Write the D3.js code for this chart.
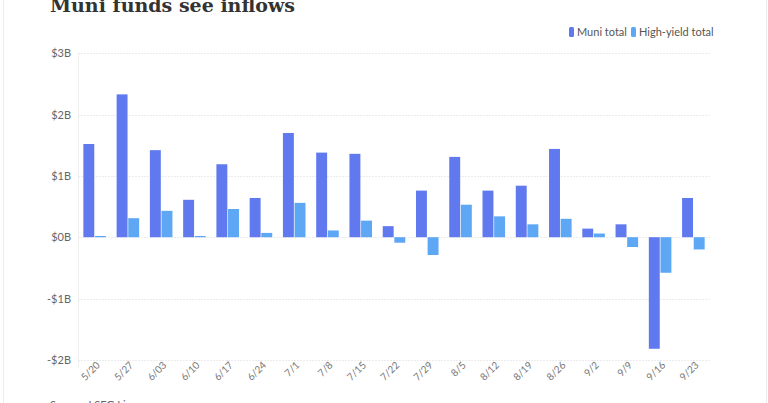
<!DOCTYPE html>
<html><head><meta charset="utf-8">
<script src="https://cdn.jsdelivr.net/npm/d3@7"></script>
<style>
html,body{margin:0;padding:0;background:#fff;}
svg{display:block;}
</style></head>
<body>
<svg id="c" width="768" height="403"></svg>
<script>
const categories = ["5/20","5/27","6/03","6/10","6/17","6/24","7/1","7/8","7/15","7/22","7/29","8/5","8/12","8/19","8/26","9/2","9/9","9/16","9/23"];
const muniTotal = [1.52,2.33,1.42,0.61,1.19,0.64,1.70,1.38,1.36,0.18,0.76,1.31,0.76,0.84,1.44,0.14,0.21,-1.82,0.64];
const highYieldTotal = [0.02,0.31,0.43,0.02,0.46,0.07,0.56,0.11,0.27,-0.09,-0.29,0.53,0.34,0.21,0.30,0.06,-0.16,-0.58,-0.20];
const seriesNames = ["Muni total","High-yield total"];
const yTicks = [-2,-1,0,1,2,3];
const yTickLabels = ["-$2B","-$1B","$0B","$1B","$2B","$3B"];

(function(){
const colors = {"Muni total":"#6179ef","High-yield total":"#5da7f4"};
const svg = d3.select("#c");
const pLeft = 78, pRight = 710, pTop = 53.3, pBottom = 359.8;

// faint card edges
svg.append("line").attr("x1",3.5).attr("x2",3.5).attr("y1",0).attr("y2",403).attr("stroke","#ececec");
svg.append("line").attr("x1",766.5).attr("x2",766.5).attr("y1",0).attr("y2",403).attr("stroke","#ececec");

const y = d3.scaleLinear().domain([-2,3]).range([pBottom, pTop]);
const x0 = d3.scaleBand().domain(categories).range([pLeft,pRight]).paddingInner(0.28).paddingOuter(0.14);
const x1 = d3.scaleBand().domain(seriesNames).range([0,x0.bandwidth()]).padding(0.06);

// gridlines
svg.append("g").selectAll("line").data(yTicks).join("line")
  .attr("x1",pLeft).attr("x2",pRight)
  .attr("y1",d=>Math.round(y(d))+0.5).attr("y2",d=>Math.round(y(d))+0.5)
  .attr("stroke","#ececec").attr("stroke-dasharray","2,1");
svg.append("line").attr("x1",pLeft+0.5).attr("x2",pLeft+0.5).attr("y1",pTop).attr("y2",pBottom+8).attr("stroke","#efefef");

// y axis labels
const yAxis = d3.axisLeft(y).tickValues(yTicks).tickFormat(d=>yTickLabels[yTicks.indexOf(d)]).tickSize(0).tickPadding(7);
const gy = svg.append("g").attr("transform",`translate(${pLeft},0)`).call(yAxis);
gy.select(".domain").remove();
gy.selectAll("text").attr("font-family","Lato, sans-serif").attr("font-size",11).attr("fill","#666");

// x axis
const xAxis = d3.axisBottom(x0).tickSize(4).tickPadding(0);
const gx = svg.append("g").attr("transform",`translate(0,${pBottom})`).call(xAxis);
gx.select(".domain").remove();
gx.selectAll(".tick line").attr("stroke","#e6e6e6");
gx.selectAll("text").attr("font-family","Lato, sans-serif").attr("font-size",10).attr("fill","#777")
  .attr("text-anchor","end").attr("y",0).attr("dy","0")
  .attr("transform","translate(6,6) rotate(-45)");

// bars
const rows = categories.map((c,i)=>({cat:c, vals:[{k:"Muni total",v:muniTotal[i]},{k:"High-yield total",v:highYieldTotal[i]}]}));
svg.append("g").selectAll("g").data(rows).join("g")
  .attr("transform",d=>`translate(${x0(d.cat)},0)`)
  .selectAll("rect").data(d=>d.vals).join("rect")
  .attr("x",d=>x1(d.k)).attr("width",x1.bandwidth())
  .attr("y",d=>y(Math.max(0,d.v))).attr("height",d=>Math.abs(y(d.v)-y(0)))
  .attr("fill",d=>colors[d.k]);

// title
svg.append("text").attr("x",50).attr("y",12).text("Muni funds see inflows")
  .attr("font-family","'DejaVu Serif', serif").attr("font-weight","bold").attr("font-size",19).attr("fill","#333");

// legend
const legend = [{k:"Muni total",x:569},{k:"High-yield total",x:631}];
legend.forEach(l=>{
  svg.append("rect").attr("x",l.x).attr("y",27).attr("width",5).attr("height",10).attr("rx",1.5).attr("fill",colors[l.k]);
  svg.append("text").attr("x",l.x+8).attr("y",36).text(l.k)
    .attr("font-family","Lato, sans-serif").attr("font-size",11).attr("fill","#555");
});

// source
svg.append("text").attr("x",50).attr("y",409).text("Source: LSEG Lipper")
  .attr("font-family","Lato, sans-serif").attr("font-size",11).attr("fill","#666");
})();
</script>
</body></html>
